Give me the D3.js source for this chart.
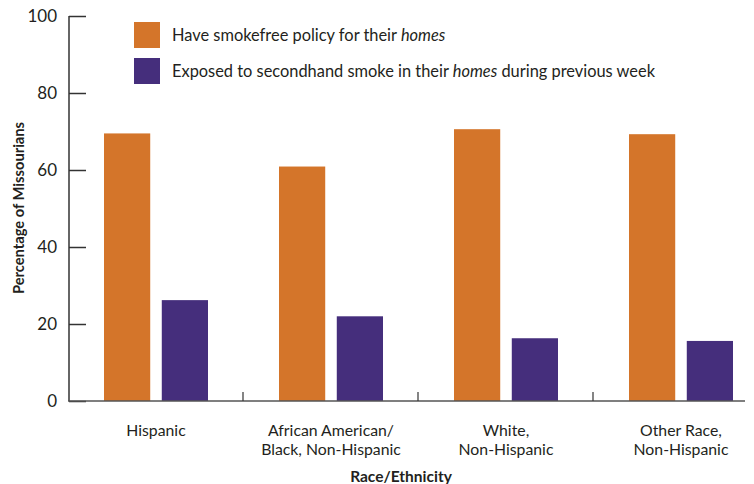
<!DOCTYPE html>
<html><head><meta charset="utf-8">
<script src="https://cdn.jsdelivr.net/npm/d3@7"></script>
<style>body{margin:0;background:#fff}svg{display:block}text{font-family:Lato,"Open Sans",sans-serif;fill:#231f20}</style>
</head><body><svg id="c" width="754" height="484"></svg>
<script>
const categories = [["Hispanic"],["African American/","Black, Non-Hispanic"],["White,","Non-Hispanic"],["Other Race,","Non-Hispanic"]];
const smokefree = [69.5, 60.9, 70.6, 69.3];
const exposed = [26.2, 22.0, 16.3, 15.6];
const seriesNames = ["Have smokefree policy for their ", "Exposed to secondhand smoke in their "];
const yTicks = [0,20,40,60,80,100];
const colors = ["#D4752A","#452E7C"];

const svg = d3.select("#c");
const y = d3.scaleLinear().domain([0,100]).range([401,16]);
const x = d3.scaleBand().domain(d3.range(categories.length)).range([68,768]).paddingInner(0).paddingOuter(0);
const sub = d3.scaleBand().domain([0,1]).range([36, 36+104]).paddingInner(0.2);

// y axis
const ya = svg.append("g").attr("transform","translate(69,0)").call(d3.axisRight(y).tickValues(yTicks).tickSize(17).tickFormat(""));
ya.select(".domain").remove();
ya.selectAll("line").attr("stroke","#333").attr("stroke-width",1.5);
svg.append("line").attr("x1",69).attr("x2",69).attr("y1",16).attr("y2",401).attr("stroke","#333").attr("stroke-width",1.5);
svg.selectAll(".yl").data(yTicks).join("text").attr("x",57).attr("y",d=>y(d)).attr("dy","0.35em")
  .attr("text-anchor","end").style("font-size","17px").text(d=>d);

// bars
const series = [smokefree, exposed];
series.forEach((vals,si)=>{
  svg.append("g").selectAll("rect").data(vals).join("rect")
    .attr("x",(d,i)=>x(i)+sub(si)).attr("width",sub.bandwidth())
    .attr("y",d=>y(d)).attr("height",d=>y(0)-y(d)).attr("fill",colors[si]);
});

// x axis
svg.append("line").attr("x1",68).attr("x2",745).attr("y1",401).attr("y2",401).attr("stroke","#555").attr("stroke-width",1.5);
svg.selectAll(".xt").data(d3.range(1,categories.length)).join("line")
  .attr("x1",d=>x(d)).attr("x2",d=>x(d)).attr("y1",392).attr("y2",401).attr("stroke","#333").attr("stroke-width",1.2);
categories.forEach((lines,i)=>{
  const t = svg.append("text").attr("text-anchor","middle").style("font-size","15.8px");
  lines.forEach((l,j)=>t.append("tspan").attr("x",x(i)+36+52).attr("y",436+j*19).text(l));
});

// titles
svg.append("text").attr("x",401).attr("y",482).attr("text-anchor","middle").style("font-size","15.5px").style("font-weight","bold").text("Race/Ethnicity");
svg.append("text").attr("transform","translate(24,208) rotate(-90)").attr("text-anchor","middle").style("font-size","14.7px").style("font-weight","bold").text("Percentage of Missourians");

// legend
const suffix = ["", " during previous week"];
[0,1].forEach(i=>{
  const yy = 22 + i*36;
  svg.append("rect").attr("x",134).attr("y",yy).attr("width",26).attr("height",26).attr("fill",colors[i]);
  const t = svg.append("text").attr("x",172).attr("y",yy+13).attr("dy","0.35em").style("font-size","16.4px");
  t.append("tspan").text(seriesNames[i]);
  t.append("tspan").style("font-style","italic").text("homes");
  t.append("tspan").text(suffix[i]);
});
</script></body></html>
